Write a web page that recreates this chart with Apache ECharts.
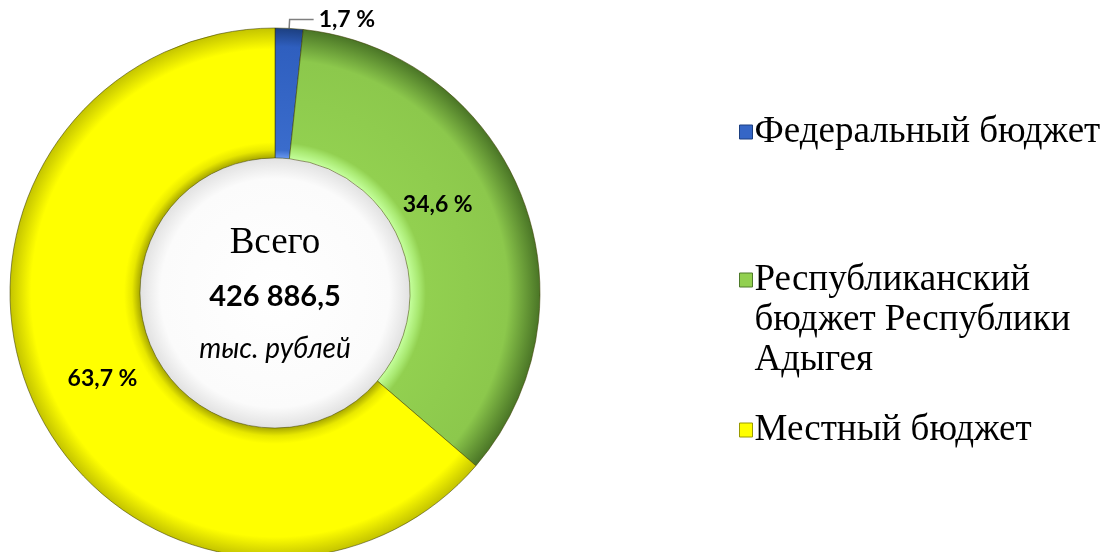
<!DOCTYPE html>
<html><head><meta charset="utf-8">
<script src="https://cdn.jsdelivr.net/npm/echarts@6/dist/echarts.min.js"></script>
<style>html,body{margin:0;padding:0;background:#fff}#c{width:1105px;height:552px}</style>
</head><body><div id="c"></div>
<script>
const categories = ['Федеральный бюджет', 'Республиканский бюджет Республики Адыгея', 'Местный бюджет'];
const legendLines = ['Федеральный бюджет', '\n\nРеспубликанский\nбюджет Республики\nАдыгея', 'Местный бюджет'];
const shares = [1.7, 34.6, 63.7];
const shareLabels = ['1,7 %', '34,6 %', '63,7 %'];
const totalLabel = '426 886,5';

const cx = 275, cy = 293, r0 = 135, r1 = 265;
const baseColors = ['#3566c6', '#92d050', '#ffff00'];
function grad(stops) {
  return { type: 'radial', x: cx, y: cy, r: r1, global: true,
    colorStops: stops.map(s => ({ offset: s[0], color: s[1] })) };
}
const k = r0 / r1;
const fills = [
  grad([[k, '#6a98f0'], [k + 0.03, '#3a6ccc'], [0.93, '#2f5fbf'], [1, '#1c3f80']]),
  grad([[k, '#c4ff9c'], [k + 0.035, '#a8e870'], [k + 0.06, '#92d050'], [0.88, '#8cc84c'], [1, '#4a7526']]),
  grad([[k, '#a8a800'], [k + 0.03, '#e8e800'], [k + 0.06, '#ffff00'], [0.92, '#ffff00'], [1, '#c4c400']])
];
const labelOffsets = [[0, 0], [-26, -14], [12, 1]];

const chart = echarts.init(document.getElementById('c'), null, { renderer: 'canvas' });
const legendTop = [112, 180, 410];
chart.setOption({
  animation: false,
  legend: categories.map((name, i) => ({
    orient: 'vertical', left: 739, top: legendTop[i], padding: 0,
    icon: 'rect', itemWidth: 13, itemHeight: 14, itemGap: 0,
    selectedMode: false,
    data: [{ name, itemStyle: { color: baseColors[i], borderColor: i === 0 ? '#1c3f80' : (i === 1 ? '#4e7a2a' : '#9a9a00'), borderWidth: 1 } }],
    formatter: () => legendLines[i],
    textStyle: {
      fontFamily: 'Liberation Serif', fontSize: 37, color: '#000', lineHeight: 40, padding: [0, 0, 0, -3]
    }
  })),
  series: [{
    type: 'pie',
    center: [cx, cy],
    radius: [r0, r1],
    startAngle: 90,
    clockwise: true,
    avoidLabelOverlap: false,
    data: categories.map((name, i) => ({
      name, value: shares[i],
      itemStyle: { color: fills[i] },
      label: i === 0 ? {
        position: 'outside', formatter: shareLabels[i], fontFamily: 'Lato', fontWeight: 'bold',
        fontSize: 23, color: '#000', distanceToLabelLine: 5
      } : {
        position: 'inside', formatter: shareLabels[i], fontFamily: 'Lato', fontWeight: 'bold',
        fontSize: 23, color: '#000'
      },
      labelLine: i === 0 ? { show: true, length: 9, length2: 24, lineStyle: { color: '#7f7f7f', width: 1.5 } } : { show: false }
    })),
    itemStyle: { borderColor: 'rgba(60,60,0,0.55)', borderWidth: 1 },
    labelLayout: (p) => ({ dx: labelOffsets[p.dataIndex][0], dy: labelOffsets[p.dataIndex][1] }),
    emphasis: { disabled: true }
  }],
  graphic: [
    { type: 'circle', shape: { cx: cx, cy: cy, r: r0 - 0.5 }, silent: true, z: 0,
      style: { fill: { type: 'radial', x: 0.5, y: 0.5, r: 0.5, colorStops: [{ offset: 0, color: '#ffffff' }, { offset: 0.85, color: '#fbfbfb' }, { offset: 1, color: '#e2e2e2' }] } } },
    { type: 'text', x: cx, y: 243, silent: true, style: { text: 'Всего', fontFamily: 'Liberation Serif', fontSize: 37, fill: '#000', align: 'center', verticalAlign: 'middle' } },
    { type: 'text', x: cx, y: 297, silent: true, style: { text: totalLabel, fontFamily: 'Lato', fontWeight: 'bold', fontSize: 29, fill: '#000', align: 'center', verticalAlign: 'middle' } },
    { type: 'text', x: cx, y: 349, silent: true, style: { text: 'тыс. рублей', fontFamily: 'Lato', fontStyle: 'italic', fontSize: 28, fill: '#000', align: 'center', verticalAlign: 'middle' } }
  ]
});
</script></body></html>
